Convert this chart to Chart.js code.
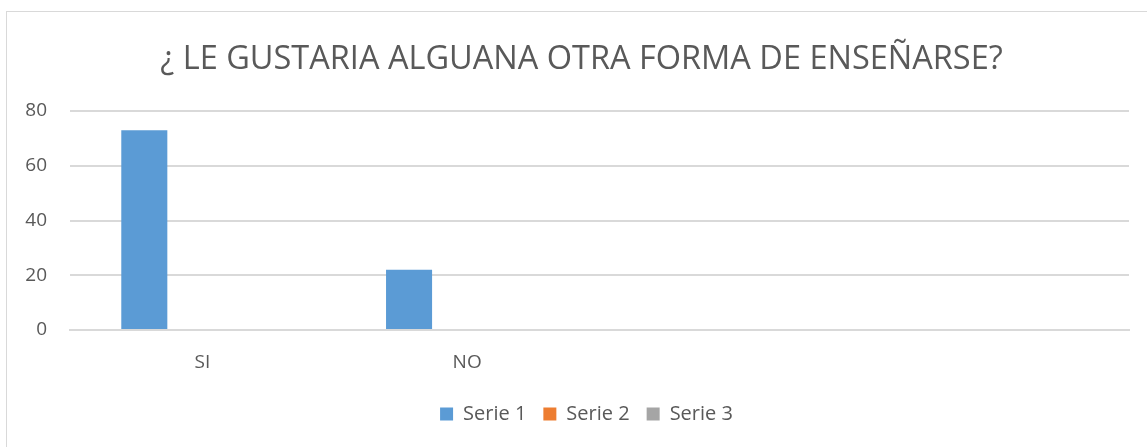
<!DOCTYPE html>
<html lang="es">
<head>
  <meta charset="UTF-8" />
  <title>¿ LE GUSTARIA ALGUANA OTRA FORMA DE ENSEÑARSE?</title>
  <style>
    body {
      margin: 0;
      background: #fff;
      overflow: hidden;
    }
    .marco {
      position: absolute;
      left: 6px;
      top: 11px;
      width: 1160px;
      height: 460px;
      border: 1px solid #d9d9d9;
    }
    #grafico {
      position: absolute;
      left: 0;
      top: 0;
    }
  </style>
  <script src="https://cdn.jsdelivr.net/npm/chart.js"></script>
</head>
<body>

<div class="marco"></div>
<canvas id="grafico" width="1147" height="447"></canvas>

<script>
  const categorias = ["SI", "NO", "", ""];
  const serie1 = [73, 22, null, null];
  const serie2 = [null, null, null, null];
  const serie3 = [null, null, null, null];
  const ticksY = [0, 20, 40, 60, 80];

  const gris = '#595959';
  const fuente = "'Open Sans', sans-serif";

  // desplaza el título y la leyenda hacia la derecha, como en el original
  const centrado = {
    id: 'centrado',
    afterLayout(chart) {
      chart.titleBlock.left += 8;
      chart.titleBlock.right += 8;
      chart.legend.left += 13;
      chart.legend.right += 13;
    }
  };

  const ctx = document.getElementById('grafico').getContext('2d');
  new Chart(ctx, {
    type: 'bar',
    data: {
      labels: categorias,
      datasets: [
        { label: 'Serie 1', data: serie1, backgroundColor: '#5B9BD5' },
        { label: 'Serie 2', data: serie2, backgroundColor: '#ED7D31' },
        { label: 'Serie 3', data: serie3, backgroundColor: '#A5A5A5' }
      ]
    },
    plugins: [centrado],
    options: {
      responsive: false,
      animation: false,
      categoryPercentage: 0.658,
      barPercentage: 0.793,
      layout: { padding: { left: 18, right: 18, top: 0, bottom: 13 } },
      plugins: {
        title: {
          display: true,
          text: '¿ LE GUSTARIA ALGUANA OTRA FORMA DE ENSEÑARSE?',
          color: gris,
          font: { family: fuente, size: 32.5, weight: 'normal' },
          padding: { top: 40, bottom: 32 }
        },
        legend: {
          position: 'bottom',
          labels: {
            color: gris,
            font: { family: fuente, size: 20 },
            boxWidth: 13,
            boxHeight: 13,
            padding: 17
          }
        },
        tooltip: { enabled: false }
      },
      scales: {
        x: {
          grid: { display: false },
          border: { color: '#d9d9d9', width: 2 },
          ticks: { color: gris, font: { family: fuente, size: 19 }, padding: 13 },
          afterFit: (escala) => { escala.height = 57; }
        },
        y: {
          min: 0,
          max: 80,
          afterBuildTicks: (escala) => { escala.ticks = ticksY.map(v => ({ value: v })); },
          grid: { color: '#d9d9d9', lineWidth: 2, drawTicks: false },
          border: { display: false },
          ticks: { color: gris, font: { family: fuente, size: 19 }, padding: 23 },
          afterFit: (escala) => { escala.width = 52; }
        }
      }
    }
  });
</script>

</body>
</html>
